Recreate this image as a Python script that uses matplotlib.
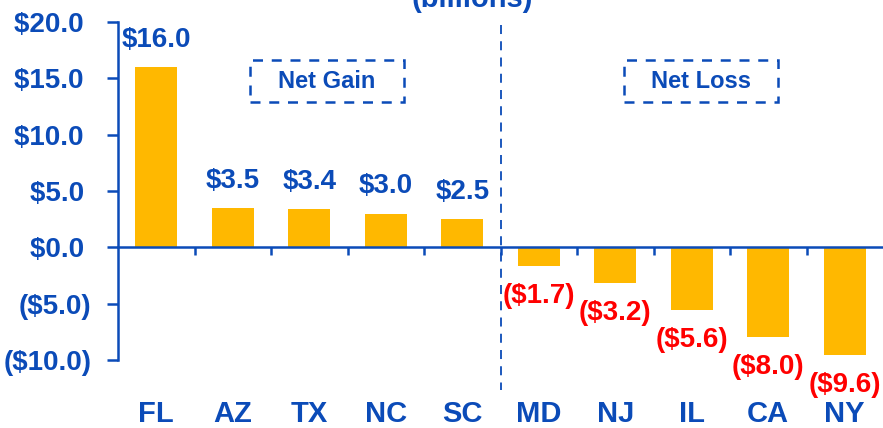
import matplotlib
matplotlib.use("Agg")
import matplotlib.pyplot as plt
from matplotlib.patches import Rectangle
import matplotlib.transforms as mtransforms

states = ["FL", "AZ", "TX", "NC", "SC", "MD", "NJ", "IL", "CA", "NY"]
values = [16.0, 3.5, 3.4, 3.0, 2.5, -1.7, -3.2, -5.6, -8.0, -9.6]
ytick_vals = [20, 15, 10, 5, 0, -5, -10]
ytick_labels = ["$20.0", "$15.0", "$10.0", "$5.0", "$0.0", "($5.0)", "($10.0)"]

BLUE = "#0B4BB8"
RED = "#FF0000"
GOLD = "#FFB800"

plt.rcParams['font.family'] = ['Liberation Sans', 'DejaVu Sans']
plt.rcParams['font.weight'] = 'bold'

fig = plt.figure(figsize=(8.83, 4.28), dpi=100)
ax = fig.add_axes([118/883, 68/428, 1 - 118/883, (360-22)/428])

x = list(range(len(states)))
ax.bar(x, values, width=0.55, color=GOLD, zorder=2)

ax.set_xlim(-0.5, len(states) - 0.5)
ax.set_ylim(-10, 20)

# spines
for s in ["top", "right"]:
    ax.spines[s].set_visible(False)
ax.spines["left"].set_color(BLUE)
ax.spines["left"].set_linewidth(1.8)
ax.spines["bottom"].set_position(("data", 0))
ax.spines["bottom"].set_color(BLUE)
ax.spines["bottom"].set_linewidth(1.8)

ax.set_yticks(ytick_vals)
# positive labels padded on the right like Excel's accounting format
padded = [lbl if lbl.endswith(")") else lbl + " " for lbl in ytick_labels]
ax.set_yticklabels(padded, fontsize=20, color=BLUE, fontweight="bold")
ax.tick_params(axis="y", direction="out", length=8, width=1.8, color=BLUE, pad=11)

ax.set_xticks([i + 0.5 for i in range(len(states) - 1)])
ax.set_xticklabels([])
ax.tick_params(axis="x", direction="out", length=6, width=1.8, color=BLUE)

# category labels below the axes
trans = mtransforms.blended_transform_factory(ax.transData, ax.transAxes)
for xi, s in zip(x, states):
    ax.text(xi, -0.16, s, transform=trans, ha="center", va="center",
            fontsize=21, color=BLUE, fontweight="bold")

# value labels
for xi, v in zip(x, values):
    if v >= 0:
        ax.annotate(f"${v:.1f}", (xi, v), xytext=(0, 19.5), textcoords="offset points",
                    ha="center", va="center", fontsize=20, color=BLUE, fontweight="bold")
    else:
        ax.annotate(f"(${-v:.1f})", (xi, v), xytext=(0, -21.5), textcoords="offset points",
                    ha="center", va="center", fontsize=20, color=RED, fontweight="bold")

# divider line
ax.plot([4.5, 4.5], [19.7, -12.7], color=BLUE, lw=1.3, ls=(0, (5, 4)), clip_on=False, zorder=3)

# boxed annotations
for (x0, x1, label) in [(1.225, 3.24, "Net Gain"), (6.11, 8.13, "Net Loss")]:
    rect = Rectangle((x0, 12.87), x1 - x0, 16.6 - 12.87, fill=False, edgecolor=BLUE,
                     lw=1.8, ls=(0, (4, 3.5)), zorder=3)
    ax.add_patch(rect)
    ax.text((x0 + x1) / 2, (12.87 + 16.6) / 2, label, ha="center", va="center",
            fontsize=17, color=BLUE, fontweight="bold")

# cut-off title (only its lower part is visible in the reference)
fig.text(472/883, 1 - 7/428, "(billions)", ha="center", va="baseline",
         fontsize=21, color=BLUE, fontweight="bold")

fig.savefig("out.png", dpi=100)
